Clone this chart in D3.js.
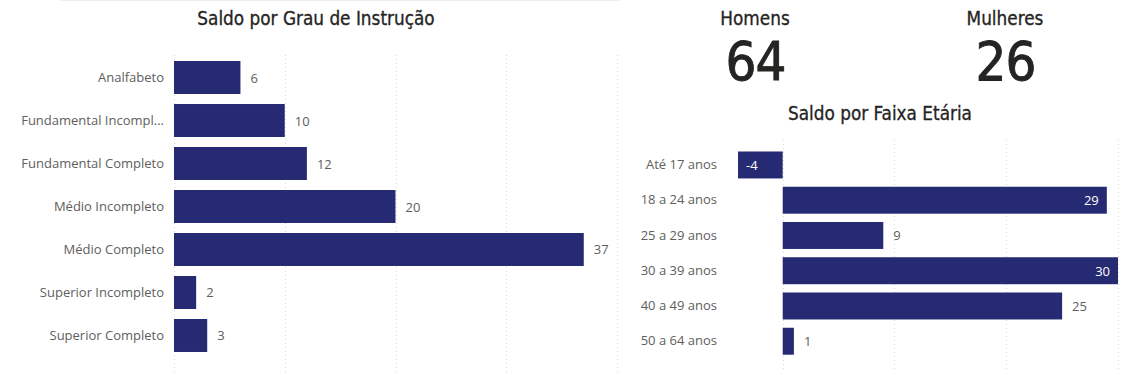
<!DOCTYPE html>
<html><head><meta charset="utf-8">
<script src="https://cdn.jsdelivr.net/npm/d3@7"></script>
<style>
body{margin:0;background:#fff;}
svg{display:block;}
</style></head>
<body>
<svg id="c" width="1141" height="375"></svg>
<script>
const eduCategories = ["Analfabeto","Fundamental Incompl...","Fundamental Completo","Médio Incompleto","Médio Completo","Superior Incompleto","Superior Completo"];
const eduValues = [6,10,12,20,37,2,3];
const eduTicks = [0,10,20,30,40];

const ageCategories = ["Até 17 anos","18 a 24 anos","25 a 29 anos","30 a 39 anos","40 a 49 anos","50 a 64 anos"];
const ageValues = [-4,29,9,30,25,1];
const ageTicks = [0,10,20,30];

const kpiLabels = ["Homens","Mulheres"];
const kpiValues = [64,26];

const BAR = "#262a73";
const LABEL = "#605e5c";
const TITLE_FONT = "'DejaVu Sans Condensed','DejaVu Sans',sans-serif";
const BODY_FONT = "'Open Sans','Noto Sans',sans-serif";

const svg = d3.select("#c");

svg.append("line").attr("x1",60).attr("x2",620).attr("y1",0.5).attr("y2",0.5)
  .attr("stroke","#eeeeee").attr("stroke-width",1);

function barChart(opts){
  const g = svg.append("g");
  const x = d3.scaleLinear().domain(opts.domain).range(opts.xRange);
  const y = d3.scaleBand().domain(opts.cats).range(opts.yRange).padding(opts.pad);
  g.selectAll(".grid").data(opts.ticks).join("line")
    .attr("x1",d=>Math.round(x(d))+0.5).attr("x2",d=>Math.round(x(d))+0.5)
    .attr("y1",opts.gridY[0]).attr("y2",opts.gridY[1])
    .attr("stroke","#d9d9d9").attr("stroke-width",1).attr("stroke-dasharray","1,3");
  const ax = d3.axisLeft(y).tickSize(0).tickPadding(0);
  const axG = g.append("g").attr("transform",`translate(${opts.labelX},0)`).call(ax);
  axG.select(".domain").remove();
  axG.selectAll("text").attr("font-family",BODY_FONT).attr("font-size",13).attr("fill",LABEL);
  g.selectAll(".bar").data(opts.vals).join("rect")
    .attr("x",d=>x(Math.min(0,d)))
    .attr("width",d=>Math.abs(x(d)-x(0)))
    .attr("y",(d,i)=>y(opts.cats[i]))
    .attr("height",y.bandwidth())
    .attr("fill",BAR);
  g.selectAll(".val").data(opts.vals).join("text")
    .attr("font-family",BODY_FONT).attr("font-size",13)
    .attr("y",(d,i)=>y(opts.cats[i])+y.bandwidth()/2+5)
    .each(function(d,i){
      const t = d3.select(this).text(d);
      const inside = opts.inside ? opts.inside(d) : null;
      if(inside==="end"){ t.attr("x",x(d)-8).attr("text-anchor","end").attr("fill","#fff"); }
      else if(inside==="start"){ t.attr("x",x(d)+8).attr("text-anchor","start").attr("fill","#fff"); }
      else { t.attr("x",x(d)+10).attr("text-anchor","start").attr("fill",LABEL); }
    });
  svg.append("text").attr("x",opts.titleX).attr("y",opts.titleY).attr("text-anchor","middle")
    .attr("font-family",TITLE_FONT).attr("font-size",18.8).attr("fill","#252423")
    .attr("stroke","#252423").attr("stroke-width",0.3).text(opts.title);
}

barChart({
  cats: eduCategories, vals: eduValues, ticks: eduTicks,
  domain:[0,40], xRange:[174,617], yRange:[51,362], pad:0.233,
  gridY:[55,372], labelX:164, title:"Saldo por Grau de Instrução", titleX:316, titleY:25
});

barChart({
  cats: ageCategories, vals: ageValues, ticks: ageTicks,
  domain:[-4,30], xRange:[738,1118], yRange:[143.2,363], pad:0.235,
  gridY:[140,372], labelX:717, title:"Saldo por Faixa Etária", titleX:880, titleY:120,
  inside: d => d<0 ? "start" : (d>=28 ? "end" : null)
});

const kpiX = [755,1005];
kpiLabels.forEach((l,i)=>{
  svg.append("text").attr("x",kpiX[i]).attr("y",25).attr("text-anchor","middle")
    .attr("font-family",TITLE_FONT).attr("font-size",18.8).attr("fill","#252423")
    .attr("stroke","#252423").attr("stroke-width",0.3).text(l);
  svg.append("text").attr("x",kpiX[i]+0.5).attr("y",80).attr("text-anchor","middle")
    .attr("font-family",TITLE_FONT).attr("font-size",54).attr("fill","#252423")
    .attr("stroke","#252423").attr("stroke-width",0.9)
    .attr("letter-spacing",-1).text(kpiValues[i]);
});
</script>
</body></html>
